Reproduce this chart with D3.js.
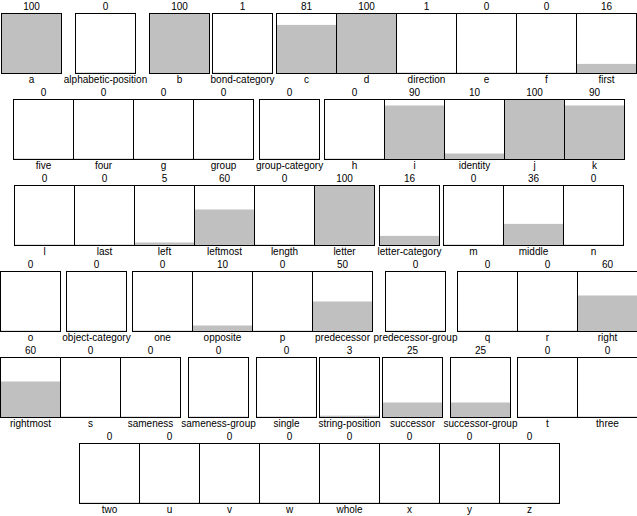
<!DOCTYPE html>
<html>
<head>
<meta charset="utf-8">
<script src="https://cdn.jsdelivr.net/npm/d3@7"></script>
<style>
  html, body { margin: 0; padding: 0; background: #fff; }
  svg { display: block; }
</style>
</head>
<body>
<svg id="chart" width="637" height="516"></svg>
<script>
const categories = [
  "a", "alphabetic-position", "b", "bond-category", "c", "d", "direction", "e", "f", "first",
  "five", "four", "g", "group", "group-category", "h", "i", "identity", "j", "k",
  "l", "last", "left", "leftmost", "length", "letter", "letter-category", "m", "middle", "n",
  "o", "object-category", "one", "opposite", "p", "predecessor", "predecessor-group", "q", "r", "right",
  "rightmost", "s", "sameness", "sameness-group", "single", "string-position", "successor", "successor-group", "t", "three",
  "two", "u", "v", "w", "whole", "x", "y", "z"
];
const activations = [
  100, 0, 100, 1, 81, 100, 1, 0, 0, 16,
  0, 0, 0, 0, 0, 0, 90, 10, 100, 90,
  0, 0, 5, 60, 0, 100, 16, 0, 36, 0,
  0, 0, 0, 10, 0, 50, 0, 0, 0, 60,
  60, 0, 0, 0, 0, 3, 25, 25, 0, 0,
  0, 0, 0, 0, 0, 0, 0, 0
];
const perRow = 10;
const activationDomain = [0, 100];

const W = 637, H = 516;
const BOX = 60;
const ROW_PITCH = 86;
const TOP = 13;

const svg = d3.select("#chart");

// measure label widths to size cells
const measurer = svg.append("text")
  .attr("font-family", "'DejaVu Sans'")
  .attr("font-size", 9.2)
  .attr("visibility", "hidden");
function measure(t) { measurer.text(t); return measurer.node().getComputedTextLength(); }

const data = categories.map((name, i) => ({
  name, value: activations[i], row: Math.floor(i / perRow), w: Math.max(BOX, measure(name))
}));
measurer.remove();

const nRows = Math.ceil(categories.length / perRow);
const y = d3.scaleLinear().domain([0, 1]).range([TOP, TOP + ROW_PITCH]);
const h = d3.scaleLinear().domain(activationDomain).range([0, BOX]);

// layout x positions per row (centered)
d3.range(nRows).forEach(r => {
  const items = data.filter(d => d.row === r);
  const total = d3.sum(items, d => d.w);
  let x = (W - total) / 2;
  items.forEach(d => { d.cx = x + d.w / 2; x += d.w; });
});

const g = svg.selectAll("g.node").data(data).join("g").attr("class", "node")
  .attr("transform", d => `translate(${Math.round(d.cx - BOX / 2)},${Math.round(y(d.row))})`);

g.append("rect")
  .attr("x", 0.5).attr("y", 0.5)
  .attr("width", BOX).attr("height", BOX)
  .attr("fill", "#fff");

g.append("rect")
  .attr("x", 0.5)
  .attr("width", BOX)
  .attr("y", d => 0.5 + BOX - Math.max(1, h(d.value)))
  .attr("height", d => Math.max(1, h(d.value)))
  .attr("fill", "#c0c0c0");

g.append("rect")
  .attr("x", 0.5).attr("y", 0.5)
  .attr("width", BOX).attr("height", BOX)
  .attr("fill", "none")
  .attr("stroke", "#000")
  .attr("stroke-width", 1);

g.append("text")
  .attr("x", BOX / 2 + 0.5)
  .attr("y", -3)
  .attr("text-anchor", "middle")
  .attr("font-family", "'Liberation Sans', Arial, sans-serif")
  .attr("font-size", 10)
  .attr("fill", "#000")
  .text(d => d.value);

g.append("text")
  .attr("x", BOX / 2 + 0.5)
  .attr("y", BOX + 10)
  .attr("text-anchor", "middle")
  .attr("font-family", "'Liberation Sans', Arial, sans-serif")
  .attr("font-size", 10)
  .attr("fill", "#000")
  .text(d => d.name);
</script>
</body>
</html>
